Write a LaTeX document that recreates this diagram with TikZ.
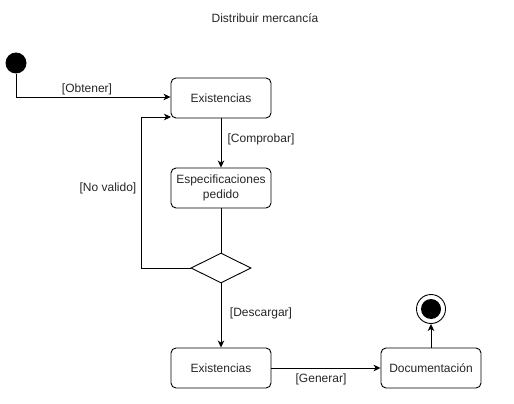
\documentclass[tikz,border=0pt]{standalone}
\usepackage{fontspec}
\setmainfont{Liberation Sans}
\usetikzlibrary{arrows.meta,shapes.geometric}
\begin{document}
\begin{tikzpicture}[x=1pt,y=-1pt,
  every node/.style={font=\fontsize{12}{14.5}\selectfont, text=black!85},
  act/.style={draw, rounded corners=5pt, minimum width=100pt, minimum height=40pt, line width=0.9pt, align=center, inner sep=1pt},
  dec/.style={draw, diamond, aspect=2, minimum width=60pt, minimum height=30pt, line width=0.9pt, inner sep=0pt},
  lbl/.style={inner sep=1pt},
  flow/.style={line width=0.9pt, -{Stealth[length=7pt,width=6.5pt,inset=2pt]}},
  plain/.style={line width=0.9pt}]
\useasboundingbox (0,0) rectangle (514,404);
\node (title) at (265,18) {Distribuir mercancía};
\node[circle, fill=black, minimum size=21pt, inner sep=0pt] (start) at (16,63) {};
\node[act] (ex1) at (221,98) {Existencias};
\node[act] (esp) at (221,188) {Especificaciones\\pedido};
\node[dec] (d) at (221,268) {};
\node[act] (ex2) at (221,368) {Existencias};
\node[act] (doc) at (431,368) {Documentación};
\node[circle, draw, line width=0.9pt, minimum size=29pt, inner sep=0pt] (endo) at (431,309) {};
\node[circle, fill=black, minimum size=20pt, inner sep=0pt] (endi) at (431,309) {};
\coordinate (c1) at (16,97);
\coordinate (c2) at (141,268);
\coordinate (c3) at (141,117);
\coordinate (c4) at (171,117);
\draw[flow] (start) -- (c1) -- (ex1.west |- c1);
\node[lbl] (lo) at (87,89) {[Obtener]};
\draw[flow] (ex1) -- (esp);
\node[lbl] (lc) at (261,139) {[Comprobar]};
\draw[plain] (esp) -- (d.north);
\draw[flow] (d.west) -- (c2) -- (c3) -- (c4);
\node[lbl] (ln) at (108,188) {[No valido]};
\draw[flow] (d.south) -- (ex2);
\node[lbl] (ld) at (261,313) {[Descargar]};
\draw[flow] (ex2) -- (doc);
\node[lbl] (lg) at (321,379) {[Generar]};
\draw[flow] (doc) -- (endo);
\end{tikzpicture}
\end{document}
